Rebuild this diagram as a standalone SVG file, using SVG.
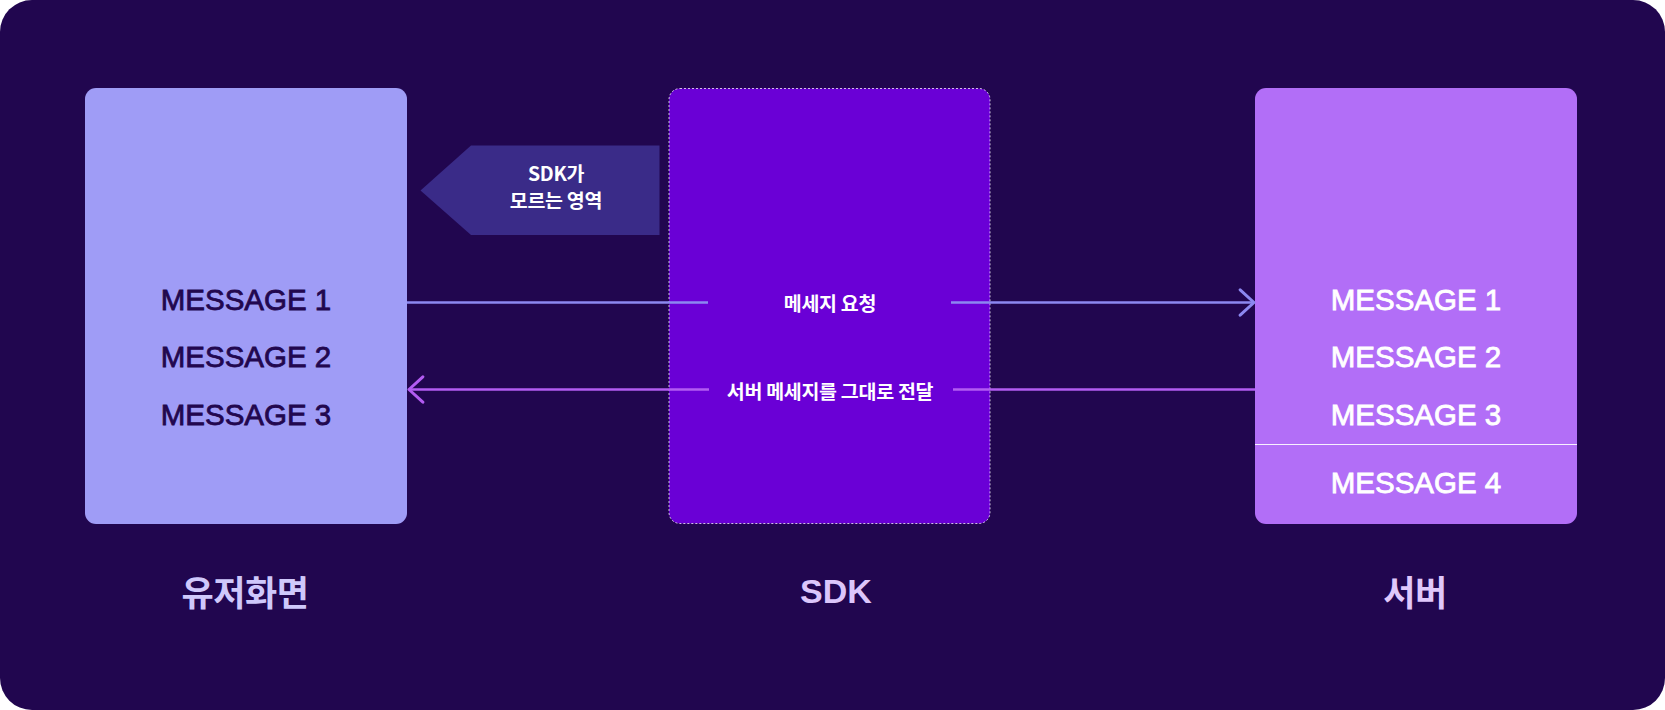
<svg xmlns="http://www.w3.org/2000/svg" width="1665" height="710" viewBox="0 0 1665 710">
  <defs>
    <style>
      .msg { font-family: "Liberation Sans", Arial, sans-serif; font-size: 29.5px; text-anchor: middle; }
      .dark { fill: #22074f; stroke: #22074f; stroke-width: 0.8; }
      .light { fill: #ffffff; stroke: #ffffff; stroke-width: 0.8; }
      .ko { font-family: "Noto Sans CJK KR", sans-serif; font-weight: 700; text-anchor: middle; }
      .lbl { font-size: 19.5px; fill: #ffffff; letter-spacing: -0.3px; }
      .title { font-size: 35px; letter-spacing: -0.5px; }
      .conn { fill: none; stroke-width: 2.6; }
    </style>
    <marker id="arrB" markerUnits="userSpaceOnUse" markerWidth="20" markerHeight="30" viewBox="-14 -13 16 26" refX="0" refY="0" orient="auto">
      <path d="M -12 -11 L 0 0 L -12 11" fill="none" stroke="#8c88f0" stroke-width="2.6" stroke-linecap="round" stroke-linejoin="round"/>
    </marker>
    <marker id="arrP" markerUnits="userSpaceOnUse" markerWidth="20" markerHeight="30" viewBox="-14 -13 16 26" refX="0" refY="0" orient="auto">
      <path d="M -12 -11 L 0 0 L -12 11" fill="none" stroke="#b35cf2" stroke-width="2.6" stroke-linecap="round" stroke-linejoin="round"/>
    </marker>
  </defs>

  <rect id="background" x="0" y="0" width="1665" height="710" rx="32" ry="32" fill="#21064f"/>

  <g id="user-screen">
    <rect x="85" y="88" width="322" height="436" rx="11" ry="11" fill="#9f9cf6"/>
    <text class="msg dark" x="246" y="310">MESSAGE 1</text>
    <text class="msg dark" x="246" y="367">MESSAGE 2</text>
    <text class="msg dark" x="246" y="425">MESSAGE 3</text>
  </g>

  <g id="sdk">
    <rect x="669" y="88.5" width="321" height="435" rx="11" ry="11" fill="#6a00d6" stroke="#ffffff" stroke-opacity="0.75" stroke-width="1" stroke-dasharray="2 2"/>
  </g>

  <g id="server">
    <rect x="1255" y="88" width="322" height="436" rx="11" ry="11" fill="#b26ef7"/>
    <line x1="1255" y1="444.5" x2="1577" y2="444.5" stroke="#ffffff" stroke-opacity="0.9" stroke-width="1"/>
    <text class="msg light" x="1416" y="310">MESSAGE 1</text>
    <text class="msg light" x="1416" y="367">MESSAGE 2</text>
    <text class="msg light" x="1416" y="425">MESSAGE 3</text>
    <text class="msg light" x="1416" y="493">MESSAGE 4</text>
  </g>

  <g id="callout">
    <polygon points="420.5,190.5 471,145.5 659.5,145.5 659.5,235 471,235" fill="#3a2b88"/>
    <text class="ko lbl" x="556" y="181">SDK가</text>
    <text class="ko lbl" x="556" y="208">모르는 영역</text>
  </g>

  <g id="connectors">
    <line class="conn" x1="407" y1="302.5" x2="708" y2="302.5" stroke="#8c88f0"/>
    <line class="conn" x1="951" y1="302.5" x2="1254" y2="302.5" stroke="#8c88f0" marker-end="url(#arrB)"/>
    <line class="conn" x1="1255" y1="389.5" x2="953" y2="389.5" stroke="#b35cf2"/>
    <line class="conn" x1="709" y1="389.5" x2="409" y2="389.5" stroke="#b35cf2" marker-end="url(#arrP)"/>
    <text class="ko lbl" x="830" y="311">메세지 요청</text>
    <text class="ko lbl" x="830" y="399">서버 메세지를 그대로 전달</text>
  </g>

  <g id="titles">
    <text class="ko title" x="245" y="606" fill="#cfc8fb">유저화면</text>
    <text class="ko title" x="836" y="603" fill="#dcc6fb" style="font-family: 'Liberation Sans', Arial, sans-serif; font-size: 34px; letter-spacing: 0;">SDK</text>
    <text class="ko title" x="1415" y="606" fill="#e0c8fb">서버</text>
  </g>
</svg>
